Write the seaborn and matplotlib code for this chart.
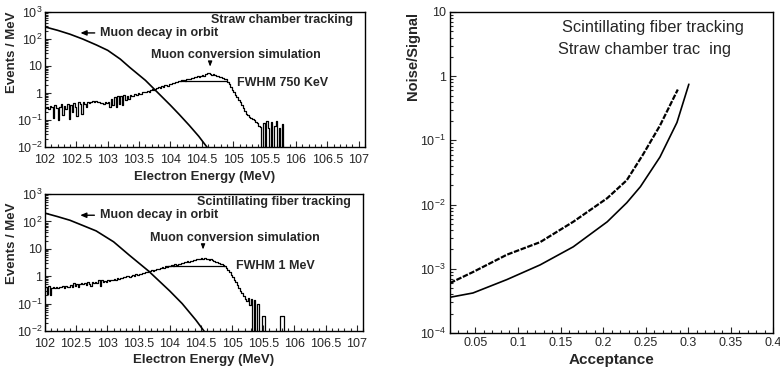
import numpy as np
import pandas as pd
import matplotlib
matplotlib.use("Agg")
import matplotlib.pyplot as plt
import seaborn as sns
from matplotlib.ticker import FixedLocator, FixedFormatter, MultipleLocator, LogLocator, NullFormatter

# ---------------- data ----------------
bin_start = 102.0
bin_width = 0.025

straw_counts = [
    0.28, 0.30, 0.25, 0.32, 0.30, 0.12, 0.35, 0.28,
    0.10, 0.30, 0.38, 0.15, 0.33, 0.25, 0.40, 0.11,
    0.35, 0.20, 0.42, 0.30, 0.14, 0.45, 0.38, 0.16,
    0.45, 0.40, 0.30, 0.48, 0.42, 0.45, 0.50, 0.48,
    0.50, 0.46, 0.48, 0.44, 0.42, 0.40, 0.45, 0.42,
    0.48, 0.30, 0.62, 0.35, 0.70, 0.30, 0.75, 0.40,
    0.80, 0.35, 0.85, 0.55, 0.75, 0.60, 0.85, 0.80,
    0.80, 0.90, 0.85, 1.00, 0.95, 0.90, 1.10, 1.05,
    1.10, 1.20, 1.05, 1.30, 1.40, 1.25, 1.45, 1.55,
    1.60, 1.50, 1.80, 1.70, 1.90, 2.00, 1.85, 2.20,
    2.10, 2.40, 2.30, 2.60, 2.50, 2.80, 2.70, 3.00,
    3.10, 2.90, 3.30, 3.40, 3.20, 3.60, 3.50, 3.80,
    3.90, 4.20, 4.00, 4.40, 4.60, 4.30, 5.00, 5.40,
    5.60, 5.00, 4.80, 5.00, 4.60, 4.40, 4.20, 4.00,
    3.80, 3.50, 3.30, 3.20, 2.60, 2.20, 1.70, 1.30,
    1.10, 0.85, 0.70, 0.55, 0.45, 0.36, 0.28, 0.22,
    0.17, 0.15, 0.13, 0.12, 0.11, 0.10, 0.085, 0.075,
    0.06, 0.055, 0.0, 0.08, 0.0, 0.09, 0.05, 0.0,
    0.085, 0.0, 0.06, 0.09, 0.0, 0.05, 0.0, 0.07,
    0.0, 0.0,
]

fiber_counts = [
    0.40, 0.22, 0.45, 0.20, 0.38, 0.42, 0.36, 0.40,
    0.38, 0.42, 0.40, 0.45, 0.36, 0.44, 0.42, 0.40,
    0.48, 0.42, 0.55, 0.45, 0.50, 0.40, 0.52, 0.55,
    0.50, 0.58, 0.48, 0.62, 0.52, 0.45, 0.60, 0.55,
    0.62, 0.58, 0.70, 0.45, 0.75, 0.60, 0.66, 0.62,
    0.70, 0.66, 0.75, 0.72, 0.80, 0.74, 0.85, 0.80,
    0.88, 0.84, 0.95, 0.90, 0.98, 1.02, 0.95, 1.05,
    1.10, 1.05, 1.20, 1.15, 1.25, 1.20, 1.35, 1.30,
    1.45, 1.40, 1.55, 1.50, 1.65, 1.60, 1.75, 1.80,
    1.90, 1.85, 2.00, 2.10, 2.05, 2.25, 2.20, 2.35,
    2.40, 2.50, 2.45, 2.70, 2.65, 2.85, 2.90, 3.00,
    3.10, 3.30, 3.20, 3.50, 3.40, 3.70, 3.60, 3.90,
    4.00, 4.20, 4.40, 4.10, 4.60, 4.30, 4.50, 4.20,
    4.40, 4.00, 4.10, 3.80, 3.70, 3.40, 3.30, 3.00,
    2.90, 2.70, 2.60, 2.30, 2.00, 1.70, 1.40, 1.10,
    0.90, 0.75, 0.60, 0.48, 0.38, 0.30, 0.24, 0.19,
    0.15, 0.12, 0.16, 0.09, 0.15, 0.0, 0.14, 0.0,
    0.10, 0.0, 0.0, 0.035, 0.035, 0.0, 0.0, 0.0,
    0.0, 0.0, 0.0, 0.0, 0.0, 0.0, 0.0, 0.035,
    0.035, 0.0,
]

straw_dio_energy = [102.0, 102.2, 102.4, 102.6, 102.82, 103.0, 103.2, 103.35, 103.6, 103.74,
                    104.0, 104.14, 104.3, 104.45, 104.58]
straw_dio_rate = [280, 210, 150, 100, 60, 38, 18, 8.9, 2.95, 1.4,
                  0.35, 0.16, 0.063, 0.025, 0.01]

fiber_dio_energy = [102.0, 102.2, 102.4, 102.6, 102.82, 103.1, 103.35, 103.66, 104.0, 104.2, 104.42, 104.55]
fiber_dio_rate = [200, 150, 110, 72, 45, 18, 5.9, 1.55, 0.29, 0.1, 0.025, 0.01]

straw_fwhm = [104.15, 104.9]
straw_fwhm_level = 2.8
fiber_fwhm = [103.92, 104.88]
fiber_fwhm_level = 2.35

fiber_acceptance = [0.02, 0.047, 0.087, 0.126, 0.165, 0.205, 0.228, 0.247, 0.267, 0.288]
fiber_noise_signal = [6.0e-4, 8.9e-4, 1.66e-3, 2.6e-3, 5.4e-3, 0.0126, 0.024, 0.06, 0.17, 0.62]

straw_acceptance = [0.02, 0.047, 0.087, 0.126, 0.165, 0.205, 0.228, 0.244, 0.267, 0.287, 0.301]
straw_noise_signal = [3.6e-4, 4.2e-4, 6.8e-4, 1.15e-3, 2.2e-3, 5.4e-3, 0.0107, 0.019, 0.055, 0.19, 0.75]

energy_ticks = [102, 102.5, 103, 103.5, 104, 104.5, 105, 105.5, 106, 106.5, 107]
energy_tick_labels = ["102", "102.5", "103", "103.5", "104", "104.5", "105", "105.5", "106", "106.5", "107"]
events_ticks = [1e-2, 1e-1, 1, 10, 1e2, 1e3]
events_tick_labels = ["$10^{-2}$", "$10^{-1}$", "1", "10", "$10^{2}$", "$10^{3}$"]
acc_ticks = [0.05, 0.1, 0.15, 0.2, 0.25, 0.3, 0.35, 0.4]
acc_tick_labels = ["0.05", "0.1", "0.15", "0.2", "0.25", "0.3", "0.35", "0.4"]
ns_ticks = [1e-4, 1e-3, 1e-2, 1e-1, 1, 10]
ns_tick_labels = ["$10^{-4}$", "$10^{-3}$", "$10^{-2}$", "$10^{-1}$", "1", "10"]

# ---------------- style ----------------
sns.set_style("ticks")
plt.rcParams["font.family"] = ["Liberation Sans", "DejaVu Sans"]
plt.rcParams["mathtext.default"] = "regular"
plt.rcParams["axes.linewidth"] = 1.0

W, H = 780, 373
fig = plt.figure(figsize=(W / 100, H / 100), dpi=100)
fig.patch.set_facecolor("white")


def px_axes(left, top, right, bottom):
    return fig.add_axes([left / W, 1 - bottom / H, (right - left) / W, (bottom - top) / H])


ax1 = px_axes(45, 12, 365, 147)
ax2 = px_axes(45, 194, 363, 331)
ax3 = px_axes(450, 12, 773, 333)


def hist_frame(counts):
    n = len(counts)
    edges = [bin_start + i * bin_width for i in range(n + 1)]
    vals = list(counts) + [counts[-1]]
    vals = [v if v > 0 else 1e-4 for v in vals]
    return pd.DataFrame({"energy": edges, "events": vals})


def style_energy_axis(ax):
    ax.set_yscale("log")
    ax.set_xlim(102, 107.1)
    ax.set_ylim(1e-2, 1e3)
    ax.xaxis.set_major_locator(FixedLocator(energy_ticks))
    ax.xaxis.set_major_formatter(FixedFormatter(energy_tick_labels))
    ax.xaxis.set_minor_locator(MultipleLocator(0.1))
    ax.yaxis.set_major_locator(FixedLocator(events_ticks))
    ax.yaxis.set_major_formatter(FixedFormatter(events_tick_labels))
    ax.yaxis.set_minor_locator(LogLocator(base=10, subs=np.arange(2, 10)))
    ax.yaxis.set_minor_formatter(NullFormatter())
    ax.tick_params(which="both", direction="in", top=False, right=False, width=0.8,
                   labelsize=9, pad=2)
    ax.tick_params(axis="x", which="major", pad=5)
    ax.tick_params(which="major", length=4)
    ax.tick_params(which="minor", length=2)
    for s in ax.spines.values():
        s.set_visible(True)
        s.set_color("black")
    ax.set_xlabel("Electron Energy (MeV)", fontsize=9.5, fontweight="bold")
    ax.set_ylabel("Events / MeV", fontsize=9.5, fontweight="bold")


def draw_energy_panel(ax, counts, dio_e, dio_r, fwhm, fwhm_level, title, fwhm_text, arrow_x):
    df = hist_frame(counts)
    sns.lineplot(data=df, x="energy", y="events", drawstyle="steps-post", estimator=None,
                 color="black", lw=0.9, ax=ax)
    sns.lineplot(x=dio_e, y=dio_r, estimator=None, color="black", lw=1.2, ax=ax)
    sns.lineplot(x=fwhm, y=[fwhm_level, fwhm_level], estimator=None, color="black", lw=0.9, ax=ax)
    style_energy_axis(ax)
    tk = dict(fontsize=9, fontweight="bold", transform=ax.transAxes, va="center")
    ax.text(0.963, 0.94, title, ha="right", **tk)
    ax.text(0.172, 0.845, "Muon decay in orbit", ha="left", **tk)
    ax.annotate("", xy=(0.102, 0.845), xytext=(0.164, 0.845), xycoords="axes fraction",
                arrowprops=dict(arrowstyle="-|>,head_length=0.35,head_width=0.15", color="black", lw=1.0))
    ax.text(0.33, 0.68, "Muon conversion simulation", ha="left", **tk)
    ax.annotate("", xy=(arrow_x, 0.575), xytext=(arrow_x, 0.64), xycoords="axes fraction",
                arrowprops=dict(arrowstyle="-|>,head_length=0.3,head_width=0.12", color="black", lw=0.8))
    ax.text(0.60, 0.474, fwhm_text, ha="left", **tk)


draw_energy_panel(ax1, straw_counts, straw_dio_energy, straw_dio_rate, straw_fwhm, straw_fwhm_level,
                  "Straw chamber tracking", "FWHM 750 KeV", 0.516)
draw_energy_panel(ax2, fiber_counts, fiber_dio_energy, fiber_dio_rate, fiber_fwhm, fiber_fwhm_level,
                  "Scintillating fiber tracking", "FWHM 1 MeV", 0.497)

ax1.xaxis.set_label_coords(0.5, -0.175)
ax2.xaxis.set_label_coords(0.5, -0.17)
ax1.yaxis.set_label_coords(-0.085, 0.70)
ax2.yaxis.set_label_coords(-0.085, 0.64)

# ---------------- right panel ----------------
sns.lineplot(x=fiber_acceptance, y=fiber_noise_signal, estimator=None, color="black", lw=1.6,
             linestyle=(0, (2.5, 0.7)), ax=ax3)
sns.lineplot(x=straw_acceptance, y=straw_noise_signal, estimator=None, color="black", lw=1.2, ax=ax3)
ax3.set_yscale("log")
ax3.set_xlim(0.02, 0.4)
ax3.set_ylim(1e-4, 10)
ax3.xaxis.set_major_locator(FixedLocator(acc_ticks))
ax3.xaxis.set_major_formatter(FixedFormatter(acc_tick_labels))
ax3.xaxis.set_minor_locator(MultipleLocator(0.01))
ax3.yaxis.set_major_locator(FixedLocator(ns_ticks))
ax3.yaxis.set_major_formatter(FixedFormatter(ns_tick_labels))
ax3.yaxis.set_minor_locator(LogLocator(base=10, subs=np.arange(2, 10)))
ax3.yaxis.set_minor_formatter(NullFormatter())
ax3.tick_params(which="both", direction="in", top=False, right=False, width=0.8, labelsize=9, pad=3)
ax3.tick_params(which="major", length=4)
ax3.tick_params(which="minor", length=2)
for s in ax3.spines.values():
    s.set_visible(True)
    s.set_color("black")
ax3.set_xlabel("Acceptance", fontsize=11, fontweight="bold")
ax3.set_ylabel("Noise/Signal", fontsize=10.5, fontweight="bold")
ax3.xaxis.set_label_coords(0.5, -0.062)
ax3.yaxis.set_label_coords(-0.092, 0.862)
ax3.text(0.347, 0.953, "Scintillating fiber tracking", ha="left", va="center", fontsize=11.8,
         transform=ax3.transAxes)
ax3.text(0.334, 0.882, "Straw chamber trac  ing", ha="left", va="center", fontsize=11.8,
         transform=ax3.transAxes)

fig.savefig("out.png", dpi=100, facecolor="white")
